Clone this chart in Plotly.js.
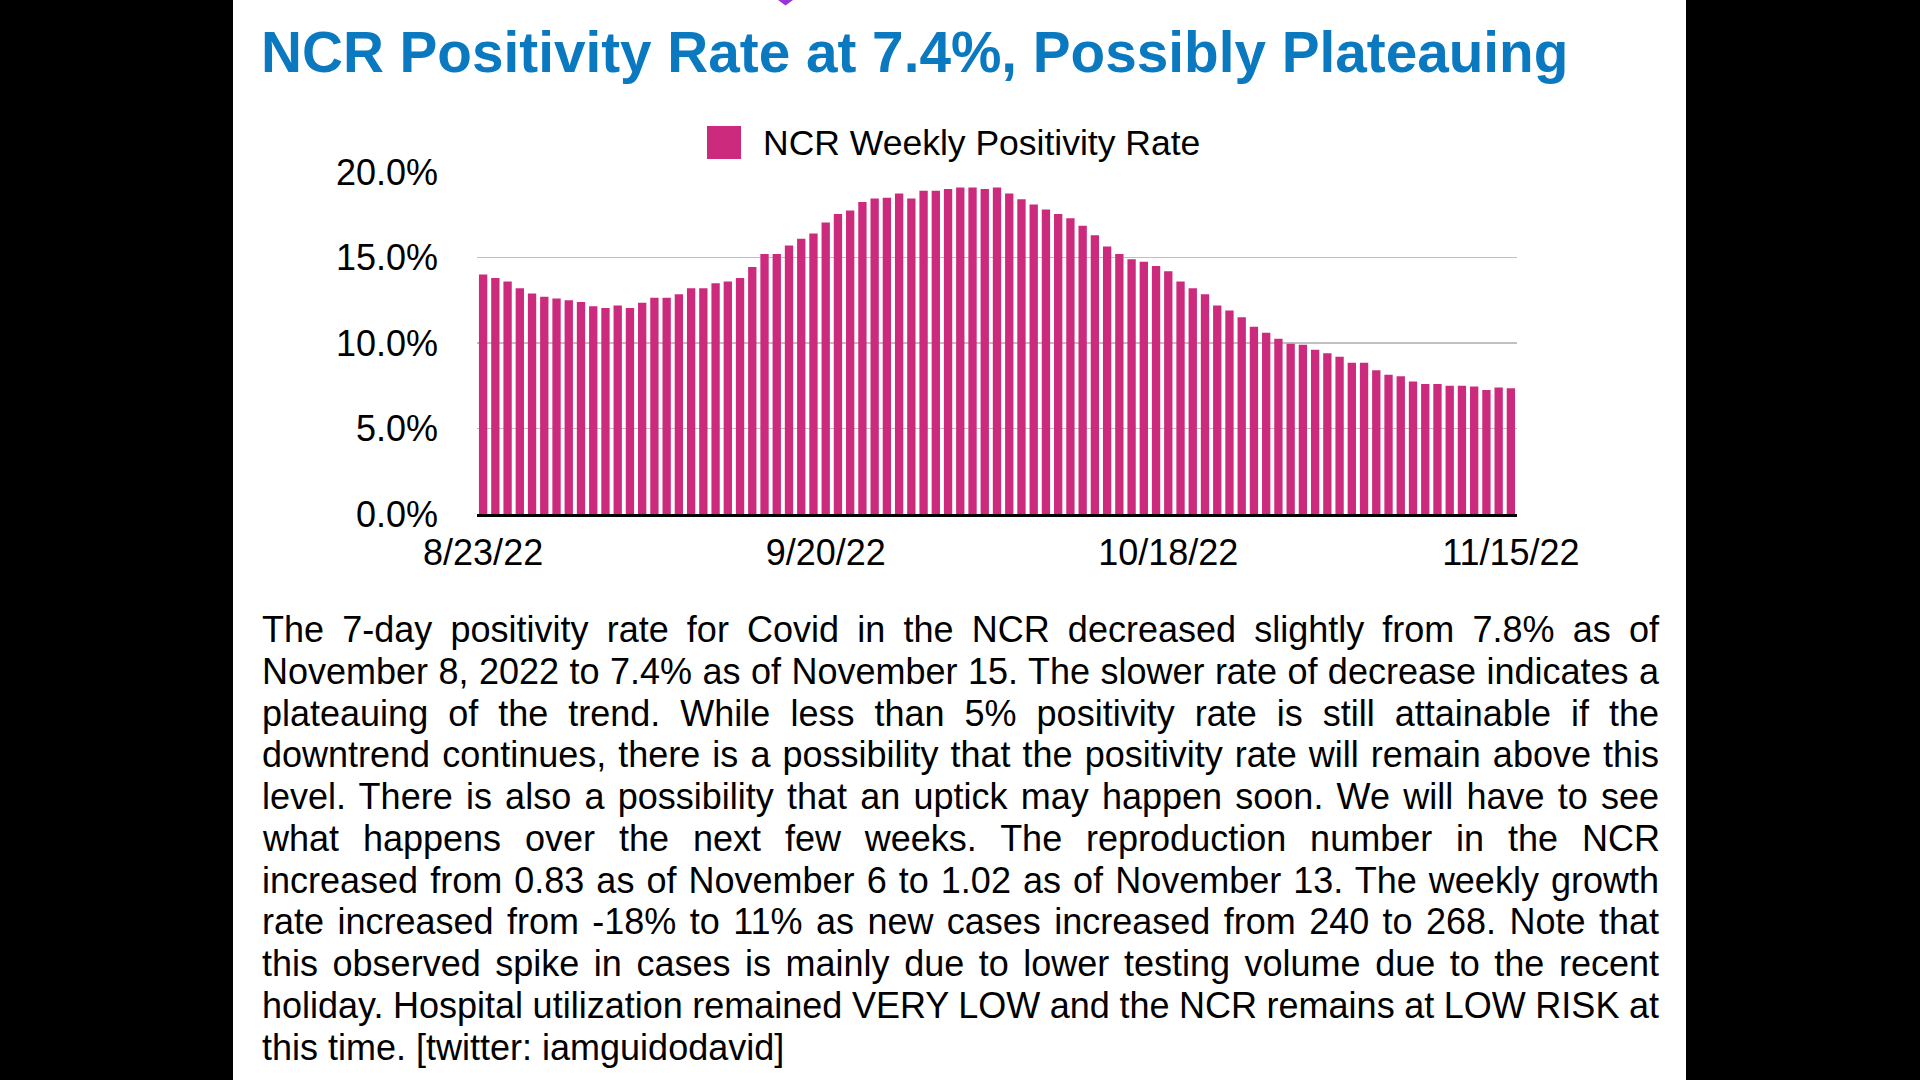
<!DOCTYPE html>
<html>
<head>
<meta charset="utf-8">
<script src="https://cdn.plot.ly/plotly-3.0.1.min.js"></script>
<style>
  html, body { margin: 0; padding: 0; background: #000; }
  #chart { width: 1920px; height: 1080px; }
</style>
</head>
<body>
<div id="chart"></div>
<script>
// ---- Data ----
const dates = [
  '8/23/22','8/24/22','8/25/22','8/26/22','8/27/22','8/28/22','8/29/22','8/30/22','8/31/22',
  '9/1/22','9/2/22','9/3/22','9/4/22','9/5/22','9/6/22','9/7/22','9/8/22','9/9/22','9/10/22',
  '9/11/22','9/12/22','9/13/22','9/14/22','9/15/22','9/16/22','9/17/22','9/18/22','9/19/22','9/20/22',
  '9/21/22','9/22/22','9/23/22','9/24/22','9/25/22','9/26/22','9/27/22','9/28/22','9/29/22','9/30/22',
  '10/1/22','10/2/22','10/3/22','10/4/22','10/5/22','10/6/22','10/7/22','10/8/22','10/9/22','10/10/22',
  '10/11/22','10/12/22','10/13/22','10/14/22','10/15/22','10/16/22','10/17/22','10/18/22','10/19/22','10/20/22',
  '10/21/22','10/22/22','10/23/22','10/24/22','10/25/22','10/26/22','10/27/22','10/28/22','10/29/22','10/30/22','10/31/22',
  '11/1/22','11/2/22','11/3/22','11/4/22','11/5/22','11/6/22','11/7/22','11/8/22','11/9/22','11/10/22',
  '11/11/22','11/12/22','11/13/22','11/14/22','11/15/22'
];
const positivityRate = [
  14.0, 13.8, 13.6, 13.2, 12.9, 12.7, 12.6, 12.5, 12.4,
  12.15, 12.05, 12.2, 12.05, 12.35, 12.65, 12.65, 12.85, 13.2, 13.2,
  13.5, 13.6, 13.8, 14.45, 15.2, 15.2, 15.7, 16.1, 16.4, 17.05,
  17.55, 17.75, 18.25, 18.45, 18.5, 18.75, 18.45, 18.9, 18.9, 19.0,
  19.1, 19.1, 19.0, 19.1, 18.75, 18.4, 18.1, 17.8, 17.55, 17.3,
  16.85, 16.3, 15.65, 15.2, 14.9, 14.75, 14.5, 14.2, 13.6, 13.2,
  12.85, 12.2, 11.9, 11.5, 10.95, 10.6, 10.25, 9.95, 9.9, 9.6, 9.4,
  9.2, 8.85, 8.85, 8.4, 8.15, 8.05, 7.75, 7.6, 7.6, 7.5,
  7.5, 7.45, 7.25, 7.4, 7.35
];
const xTickLabels = ['8/23/22', '9/20/22', '10/18/22', '11/15/22'];
const yTickValues = [0, 5, 10, 15, 20];
const yTickLabels = ['0.0%', '5.0%', '10.0%', '15.0%', '20.0%'];
const seriesName = 'NCR Weekly Positivity Rate';
const chartTitle = 'NCR Positivity Rate at 7.4%, Possibly Plateauing';
const paragraphLines = [
  'The 7-day positivity rate for Covid in the NCR decreased slightly from 7.8% as of',
  'November 8, 2022 to 7.4% as of November 15. The slower rate of decrease indicates a',
  'plateauing of the trend. While less than 5% positivity rate is still attainable if the',
  'downtrend continues, there is a possibility that the positivity rate will remain above this',
  'level. There is also a possibility that an uptick may happen soon. We will have to see',
  'what happens over the next few weeks. The reproduction number in the NCR',
  'increased from 0.83 as of November 6 to 1.02 as of November 13. The weekly growth',
  'rate increased from -18% to 11% as new cases increased from 240 to 268. Note that',
  'this observed spike in cases is mainly due to lower testing volume due to the recent',
  'holiday. Hospital utilization remained VERY LOW and the NCR remains at LOW RISK at',
  'this time. [twitter: iamguidodavid]'
];

// ---- Layout geometry (page pixels) ----
const W = 1920, H = 1080;
const L = 477, R = 1517, T = 172, B = 514;
const px = x => (x - L) / (R - L);
const py = y => (B - y) / (B - T);
const FONT = 'Liberation Sans, Arial, Helvetica, sans-serif';
const BAR_COLOR = '#cc2a7c';
const TEXT_LEFT = 261, TEXT_RIGHT = 1658;
const lineY0 = 629.5, lineStep = 41.75;

const annotations = [
  {
    xref: 'paper', yref: 'paper', x: px(762), y: py(143),
    xanchor: 'left', yanchor: 'middle', showarrow: false, align: 'left', borderpad: 0,
    text: seriesName, font: { family: FONT, size: 35.5, color: '#000' }
  }
];
paragraphLines.forEach((line, i) => {
  annotations.push({
    xref: 'paper', yref: 'paper', x: px(TEXT_LEFT), y: py(lineY0 + i * lineStep),
    xanchor: 'left', yanchor: 'middle', showarrow: false, align: 'left', borderpad: 0,
    text: line, font: { family: FONT, size: 36, color: '#000' }
  });
});

const shapes = [
  { type: 'rect', xref: 'paper', yref: 'paper', layer: 'below',
    x0: px(233), x1: px(1686), y0: py(0), y1: py(H),
    fillcolor: '#ffffff', line: { width: 0 } },
  { type: 'rect', xref: 'paper', yref: 'paper',
    x0: px(707), x1: px(741), y0: py(159), y1: py(126),
    fillcolor: BAR_COLOR, line: { width: 0 } },
  { type: 'path', xref: 'paper', yref: 'paper',
    path: `M ${px(778)} ${py(0)} L ${px(793)} ${py(0)} L ${px(785.5)} ${py(5.5)} Z`,
    fillcolor: '#9b34d8', line: { width: 0 } }
];

const trace = {
  type: 'bar',
  x: dates,
  y: positivityRate,
  name: seriesName,
  marker: { color: BAR_COLOR, line: { width: 0 } },
  hoverinfo: 'x+y'
};

const layout = {
  width: W, height: H,
  margin: { l: L, r: W - R, t: T, b: H - B, pad: 0 },
  paper_bgcolor: '#000000',
  plot_bgcolor: '#ffffff',
  showlegend: false,
  bargap: 0.32,
  title: {
    text: '<b>' + chartTitle + '</b>',
    xref: 'container', yref: 'container',
    x: TEXT_LEFT / W, xanchor: 'left',
    y: 1 - 52 / H, yanchor: 'middle',
    font: { family: FONT, size: 56.7, color: '#0a79c0' }
  },
  xaxis: {
    type: 'category',
    tickmode: 'array', tickvals: xTickLabels, ticktext: xTickLabels,
    showgrid: false, zeroline: false,
    showline: true, linecolor: '#000', linewidth: 3,
    ticks: '', ticklabelstandoff: 5,
    tickfont: { family: FONT, size: 36, color: '#000' },
    fixedrange: true
  },
  yaxis: {
    range: [0, 20],
    tickmode: 'array', tickvals: yTickValues, ticktext: yTickLabels,
    showgrid: true, gridcolor: '#c0c0c0', gridwidth: 1.5,
    zeroline: false, showline: false,
    ticks: '', ticklabelstandoff: 38,
    tickfont: { family: FONT, size: 36, color: '#000' },
    fixedrange: true
  },
  annotations: annotations,
  shapes: shapes
};

Plotly.newPlot('chart', [trace], layout, { displayModeBar: false, staticPlot: true }).then(() => {
  // justify paragraph lines (all but the last) with word spacing
  const target = TEXT_RIGHT - TEXT_LEFT;
  const groups = document.querySelectorAll('#chart .annotation');
  paragraphLines.forEach((line, i) => {
    if (i === paragraphLines.length - 1) return;
    const g = groups[i + 1];
    if (!g) return;
    const t = g.querySelector('text.annotation-text');
    if (!t) return;
    const natural = t.getComputedTextLength();
    const spaces = (line.match(/ /g) || []).length;
    if (spaces > 0) {
      t.style.wordSpacing = ((target - natural) / spaces) + 'px';
    }
  });
});
</script>
</body>
</html>
